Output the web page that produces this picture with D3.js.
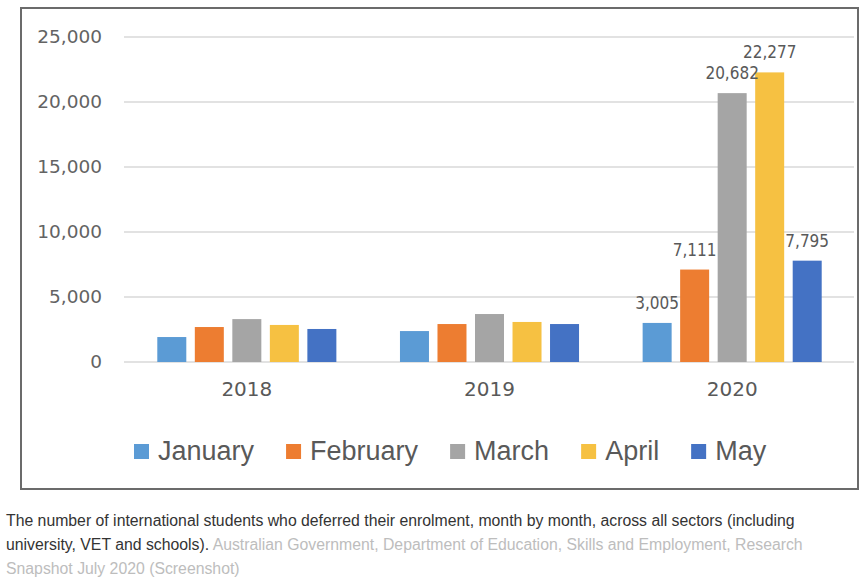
<!DOCTYPE html>
<html>
<head>
<meta charset="utf-8">
<script src="https://cdn.jsdelivr.net/npm/d3@7"></script>
<style>
  html, body { margin: 0; padding: 0; background: #fff; }
  svg { display: block; }
</style>
</head>
<body>
<svg id="chart" width="866" height="588"></svg>
<script>
// ---- data ----
const years = ["2018", "2019", "2020"];
const months = ["January", "February", "March", "April", "May"];
const january  = [1920, 2380, 3005];
const february = [2690, 2920, 7111];
const march    = [3300, 3690, 20682];
const april    = [2850, 3080, 22277];
const may      = [2540, 2920, 7795];
const labelledYears = ["2020"];
const yTicks = [0, 5000, 10000, 15000, 20000, 25000];
const colors = ["#5b9bd5", "#ed7d31", "#a5a5a5", "#f6c142", "#4472c4"];
const captionMain = "The number of international students who deferred their enrolment, month by month, across all sectors (including";
const captionLine2a = "university, VET and schools).";
const captionLine2b = " Australian Government, Department of Education, Skills and Employment, Research";
const captionLine3 = "Snapshot July 2020 (Screenshot)";

const series = [january, february, march, april, may];
const table = years.map((yr, i) => ({
  year: yr,
  values: months.map((m, j) => ({ month: m, value: series[j][i], color: colors[j] }))
}));

const svg = d3.select("#chart");

// frame
svg.append("rect")
  .attr("x", 21).attr("y", 8).attr("width", 837).attr("height", 481)
  .attr("fill", "#fff").attr("stroke", "#6b6b6b").attr("stroke-width", 2);

const y = d3.scaleLinear().domain([0, 25000]).range([362, 37]);
const x0 = d3.scaleBand().domain(years).range([125.5, 853.5]).padding(0);
const x1 = d3.scaleBand().domain(months)
  .range([31.8, x0.bandwidth() - 31.8]).paddingInner(0.227).paddingOuter(0);

// gridlines
const plotLeft = 124, plotRight = 854;
svg.append("g").selectAll("line").data(yTicks).join("line")
  .attr("x1", plotLeft).attr("x2", plotRight)
  .attr("y1", d => y(d)).attr("y2", d => y(d))
  .attr("stroke", "#d9d9d9").attr("stroke-width", 1.5);

// y axis labels
const yAxis = d3.axisLeft(y).tickValues(yTicks).tickFormat(d3.format(",")).tickSize(0).tickPadding(0);
const yg = svg.append("g").attr("transform", "translate(102,0)").call(yAxis);
yg.select(".domain").remove();
yg.selectAll("text")
  .attr("font-family", "DejaVu Sans, Verdana, sans-serif")
  .attr("font-size", 18.5).attr("fill", "#636363");

// x axis labels
const xAxis = d3.axisBottom(x0).tickSize(0).tickPadding(0);
const xg = svg.append("g").attr("transform", "translate(0,382)").call(xAxis);
xg.select(".domain").remove();
xg.selectAll("text")
  .attr("font-family", "DejaVu Sans, Verdana, sans-serif")
  .attr("font-size", 20).attr("fill", "#595959");

// bars
const groups = svg.append("g").selectAll("g").data(table).join("g")
  .attr("transform", d => `translate(${x0(d.year)},0)`);

groups.selectAll("rect").data(d => d.values).join("rect")
  .attr("x", d => x1(d.month))
  .attr("width", x1.bandwidth())
  .attr("y", d => y(d.value))
  .attr("height", d => y(0) - y(d.value))
  .attr("fill", d => d.color);

// data labels (2020 only)
groups.filter(d => labelledYears.includes(d.year))
  .selectAll("text").data(d => d.values).join("text")
  .attr("x", d => x1(d.month) + x1.bandwidth() / 2)
  .attr("y", d => y(d.value) - 14)
  .attr("text-anchor", "middle")
  .attr("font-family", "'DejaVu Sans Condensed', 'DejaVu Sans', sans-serif")
  .style("font-stretch", "condensed")
  .attr("font-size", 17).attr("fill", "#595959")
  .text(d => d3.format(",")(d.value));

// legend
const legend = svg.append("g").attr("transform", "translate(134,0)");
let cx = 0;
months.forEach((m, i) => {
  const g = legend.append("g").attr("transform", `translate(${cx},0)`);
  g.append("rect").attr("x", 0).attr("y", 444).attr("width", 15).attr("height", 15).attr("fill", colors[i]);
  const t = g.append("text").attr("x", 24).attr("y", 460)
    .attr("font-family", "'Liberation Sans', Arial, sans-serif")
    .attr("font-size", 27).attr("fill", "#595959").text(m);
  const w = t.node().getComputedTextLength();
  cx += 24 + w + 32;
});

// caption
const cap = svg.append("g")
  .attr("font-family", "'Liberation Sans', Arial, sans-serif")
  .attr("font-size", 15.8);
cap.append("text").attr("x", 6).attr("y", 526).attr("fill", "#333").text(captionMain);
const l2 = cap.append("text").attr("x", 6).attr("y", 550);
l2.append("tspan").attr("fill", "#333").text(captionLine2a);
l2.append("tspan").attr("fill", "#bdbdbd").text(captionLine2b);
cap.append("text").attr("x", 6).attr("y", 574).attr("fill", "#bdbdbd").text(captionLine3);
</script>
</body>
</html>
